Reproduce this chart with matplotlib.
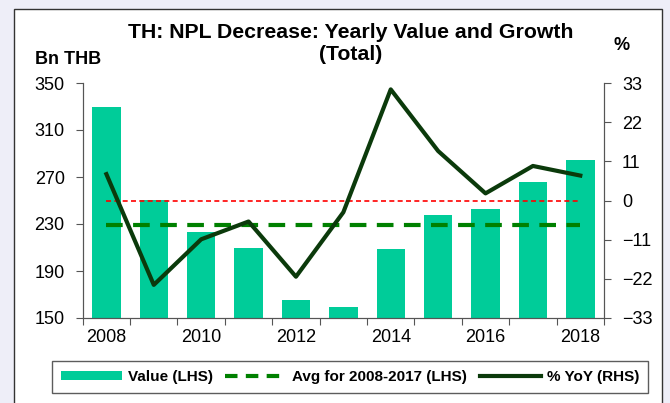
import numpy as np
import matplotlib.pyplot as plt
from matplotlib.patches import Rectangle, Patch
from matplotlib.lines import Line2D

plt.rcParams['font.family'] = ['Liberation Sans', 'DejaVu Sans']

years = [2008, 2009, 2010, 2011, 2012, 2013, 2014, 2015, 2016, 2017, 2018]
value_bn = [329.5, 250.5, 223, 210, 165, 159.5, 209, 237.5, 242.5, 265.5, 284.5]
yoy_pct = [7.4, -23.7, -10.9, -5.9, -21.4, -3.3, 31.2, 13.9, 2.0, 9.7, 7.0]
avg_2008_2017 = 229.3
year_labels = ['2008', '2010', '2012', '2014', '2016', '2018']

bar_color = '#00cc99'
avg_color = '#008000'
yoy_color = '#0b3a0b'

fig = plt.figure(figsize=(6.7, 4.03), dpi=100)
fig.patch.set_facecolor('#eeeef8')

# white panel with border, in a background axes
bg = fig.add_axes([0, 0, 1, 1], zorder=-10)
bg.set_axis_off()
bg.set_xlim(0, 670)
bg.set_ylim(403, 0)
bg.add_patch(Rectangle((14, 9), 648, 410, facecolor='white',
                       edgecolor='#333333', linewidth=1.0))

ax = fig.add_axes([82.7 / 670, 1 - 318 / 403, (604 - 82.7) / 670, (318 - 83) / 403])
ax.set_facecolor('none')
x = np.arange(len(years))

ax.bar(x, value_bn, width=0.6, color=bar_color, zorder=2)
ax.plot([x[0], x[-1]], [avg_2008_2017, avg_2008_2017], color=avg_color, lw=3,
        dashes=(4, 2.5), zorder=3)
ax.set_xlim(-0.5, len(years) - 0.5)
ax.set_ylim(150, 350)
ax.set_yticks([150, 190, 230, 270, 310, 350])
ax.set_xticks(np.arange(len(years) + 1) - 0.5)
ax.set_xticklabels([])
ax.set_xticks(x[::2], minor=True)
ax.set_xticklabels(year_labels, minor=True)
ax.tick_params(axis='x', which='major', length=5, direction='out', color='#555555')
ax.tick_params(axis='x', which='minor', length=0, pad=8, labelsize=13)
ax.tick_params(axis='y', length=5, direction='out', color='#555555', labelsize=13, pad=8)
ax.spines['top'].set_visible(False)
for s in ['left', 'right', 'bottom']:
    ax.spines[s].set_color('#555555')

ax2 = ax.twinx()
ax2.plot([x[0], x[-1]], [0, 0], color='red', lw=1.2, dashes=(3, 2), zorder=3)
ax2.plot(x, yoy_pct, color=yoy_color, lw=3, zorder=4)
ax2.set_ylim(-33, 33)
ax2.set_yticks([-33, -22, -11, 0, 11, 22, 33])
ax2.tick_params(axis='y', length=5, direction='out', color='#555555', labelsize=13, pad=8)
ax2.spines['top'].set_visible(False)
for s in ['left', 'right', 'bottom']:
    ax2.spines[s].set_color('#555555')

fig.text(351 / 670, 1 - 43 / 403, 'TH: NPL Decrease: Yearly Value and Growth\n(Total)',
         ha='center', va='center', fontsize=15.3, fontweight='bold', linespacing=1.2)
fig.text(35 / 670, 1 - 59 / 403, 'Bn THB', ha='left', va='center', fontsize=13,
         fontweight='bold')
fig.text(622 / 670, 1 - 45 / 403, '%', ha='center', va='center', fontsize=13,
         fontweight='bold')

handles = [
    Patch(facecolor=bar_color, edgecolor='none'),
    Line2D([], [], color=avg_color, lw=3, dashes=(3, 2)),
    Line2D([], [], color=yoy_color, lw=3),
]
labels = ['Value (LHS)', 'Avg for 2008-2017 (LHS)', '% YoY (RHS)']
leg = fig.legend(handles, labels, ncol=3, loc='center',
                 bbox_to_anchor=(350 / 670, 1 - 377 / 403), frameon=True,
                 fancybox=False, edgecolor='#333333',
                 prop={'weight': 'bold', 'size': 11}, handlelength=4.0,
                 handleheight=0.6, columnspacing=0.8, handletextpad=0.4,
                 borderpad=0.6)
leg.get_frame().set_linewidth(1.0)

fig.savefig('out.png', dpi=100)
